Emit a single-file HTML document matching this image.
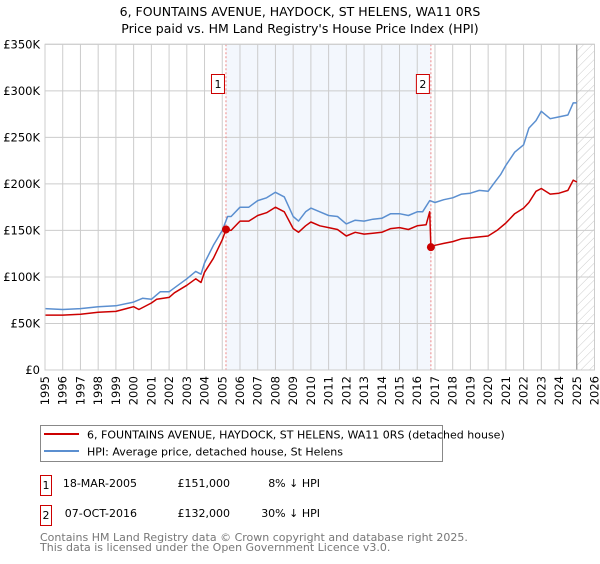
<!DOCTYPE html>
<html><head><meta charset="utf-8"><style>
body{margin:0;background:#fff;font-family:"DejaVu Sans","Liberation Sans",sans-serif;}
svg text{font-family:"DejaVu Sans","Liberation Sans",sans-serif;}
</style></head><body>
<svg id="chart" width="600" height="560" xmlns="http://www.w3.org/2000/svg">
<defs><pattern id="hatch" patternUnits="userSpaceOnUse" width="6" height="6" patternTransform="rotate(45)"><line x1="0" y1="0" x2="0" y2="6" stroke="#ccc" stroke-width="1"/></pattern></defs>
<text x="300" y="16" text-anchor="middle" font-size="12.5">6, FOUNTAINS AVENUE, HAYDOCK, ST HELENS, WA11 0RS</text>
<text x="300" y="33" text-anchor="middle" font-size="12.5">Price paid vs. HM Land Registry's House Price Index (HPI)</text>
<g id="plot"></g>
<g>
<rect x="40.5" y="425.5" width="402" height="36" fill="#fff" stroke="#888"/>
<line x1="44" y1="434" x2="79" y2="434" stroke="#cc0000" stroke-width="2"/>
<text x="87" y="438.5" font-size="11">6, FOUNTAINS AVENUE, HAYDOCK, ST HELENS, WA11 0RS (detached house)</text>
<line x1="44" y1="451" x2="79" y2="451" stroke="#5b8fd0" stroke-width="2"/>
<text x="87" y="455.5" font-size="11">HPI: Average price, detached house, St Helens</text>
</g>
<g font-size="11">
<rect x="40.5" y="475.5" width="11" height="20" fill="#fff" stroke="#cc0000"/>
<text x="46" y="489" text-anchor="middle">1</text>
<text x="137" y="487" text-anchor="end">18-MAR-2005</text>
<text x="230" y="487" text-anchor="end">£151,000</text>
<text x="320" y="487" text-anchor="end">8% ↓ HPI</text>
<rect x="40.5" y="505.5" width="11" height="20" fill="#fff" stroke="#cc0000"/>
<text x="46" y="519" text-anchor="middle">2</text>
<text x="137" y="517" text-anchor="end">07-OCT-2016</text>
<text x="230" y="517" text-anchor="end">£132,000</text>
<text x="320" y="517" text-anchor="end">30% ↓ HPI</text>
</g>
<text x="40" y="541" font-size="11" fill="#777">Contains HM Land Registry data © Crown copyright and database right 2025.</text>
<text x="40" y="551" font-size="11" fill="#777">This data is licensed under the Open Government Licence v3.0.</text>
</svg>
<script>
const hpiYears=[1995,1996,1997,1998,1999,2000,2000.5,2001,2001.5,2002,2002.5,2003,2003.5,2003.8,2004,2004.5,2005,2005.3,2005.5,2006,2006.5,2007,2007.5,2008,2008.5,2009,2009.3,2009.7,2010,2010.5,2011,2011.5,2012,2012.5,2013,2013.5,2014,2014.5,2015,2015.5,2016,2016.3,2016.7,2017,2017.5,2018,2018.5,2019,2019.5,2020,2020.3,2020.7,2021,2021.5,2022,2022.3,2022.7,2023,2023.5,2024,2024.5,2024.8,2025];
const hpiValues=[66,65,66,68,69,73,77,76,84,84,91,98,106,103,115,134,150,165,165,175,175,182,185,191,186,165,160,170,174,170,166,165,157,161,160,162,163,168,168,166,170,170,182,180,183,185,189,190,193,192,200,210,220,234,242,260,268,278,270,272,274,287,287];
const priceYears=[1995,1996,1997,1998,1999,2000,2000.3,2001,2001.3,2002,2002.3,2003,2003.5,2003.8,2004,2004.5,2005,2005.21,2005.5,2006,2006.5,2007,2007.5,2008,2008.5,2009,2009.3,2009.7,2010,2010.5,2011,2011.5,2012,2012.5,2013,2013.5,2014,2014.5,2015,2015.5,2016,2016.5,2016.7,2016.77,2017,2017.5,2018,2018.5,2019,2019.5,2020,2020.5,2021,2021.5,2022,2022.3,2022.7,2023,2023.5,2024,2024.5,2024.8,2025];
const priceValues=[59,59,60,62,63,68,65,72,76,78,83,91,98,94,105,120,140,151,150,160,160,166,169,175,170,152,148,155,159,155,153,151,144,148,146,147,148,152,153,151,155,156,170,132,134,136,138,141,142,143,144,150,158,168,174,180,192,195,189,190,193,204,202];
const saleYears=[2005.21,2016.77];
const saleValues=[151,132];
const saleLabels=["1","2"];
const yTicks=[0,50,100,150,200,250,300,350];
const yTickLabels=["£0","£50K","£100K","£150K","£200K","£250K","£300K","£350K"];
const xTicks=[1995,1996,1997,1998,1999,2000,2001,2002,2003,2004,2005,2006,2007,2008,2009,2010,2011,2012,2013,2014,2015,2016,2017,2018,2019,2020,2021,2022,2023,2024,2025,2026];

const X0=45,X1=594.5,Y0=370,Y1=44.3;
const x=v=>X0+(v-1995)/(2026-1995)*(X1-X0);
const y=v=>Y0-v/350*(Y0-Y1);
const NS="http://www.w3.org/2000/svg";
const g=document.getElementById('plot');
function mk(t,a){const e=document.createElementNS(NS,t);for(const k in a)e.setAttribute(k,a[k]);g.appendChild(e);return e;}
let e;
e=mk('rect',{x:x(saleYears[0]),y:Y1,width:x(saleYears[1])-x(saleYears[0]),height:Y0-Y1,fill:'#eef3fc',opacity:0.7});


e=mk('rect',{x:x(2025),y:Y1,width:X1-x(2025),height:Y0-Y1,fill:'url(#hatch)'});


xTicks.forEach(t=>{
  e=mk('line',{x1:x(t),x2:x(t),y1:Y1,y2:Y0,stroke:'#ccc','stroke-width':1});
  
  
  e=mk('text',{transform:`translate(${x(t)+4},${Y0+6}) rotate(-90)`,'text-anchor':'end','font-size':11.5});
  e.textContent=t;
  
  
});
yTicks.forEach((t,i)=>{
  e=mk('line',{x1:X0,x2:X1,y1:y(t),y2:y(t),stroke:'#ccc','stroke-width':1});
  
  
  e=mk('text',{x:X0-5,y:y(t)+4,'text-anchor':'end','font-size':11.5});
  e.textContent=yTickLabels[i];
  
  
});
e=mk('line',{x1:x(2025),x2:x(2025),y1:Y1,y2:Y0,stroke:'#888','stroke-width':1});


saleYears.forEach((s,i)=>{
  e=mk('line',{x1:x(s),x2:x(s),y1:Y1,y2:Y0,stroke:'#e88','stroke-width':1,'stroke-dasharray':'2,2'});
  
  
});
function path(xs,vs,col,name){
  e=mk('polyline',{points:xs.map((v,i)=>x(v).toFixed(1)+','+y(vs[i]).toFixed(1)).join(' '),fill:'none',stroke:col,'stroke-width':1.5,'stroke-linejoin':'round'});
  
  
}
path(hpiYears,hpiValues,'#5b8fd0','hpi-line');
path(priceYears,priceValues,'#cc0000','price-paid-line');
saleYears.forEach((s,i)=>{
  e=mk('circle',{cx:x(s),cy:y(saleValues[i]),r:4,fill:'#cc0000'});
  
  
  e=mk('rect',{x:x(s)-14.5,y:74.5,width:13,height:19,fill:'#fff',stroke:'#cc0000'});
  
  
  e=mk('text',{x:x(s)-8,y:88,'text-anchor':'middle','font-size':11});
  e.textContent=saleLabels[i];
  
  
});
e=mk('rect',{x:X0,y:Y1,width:X1-X0,height:Y0-Y1,fill:'none',stroke:'#ccc'});


</script>
</body></html>
